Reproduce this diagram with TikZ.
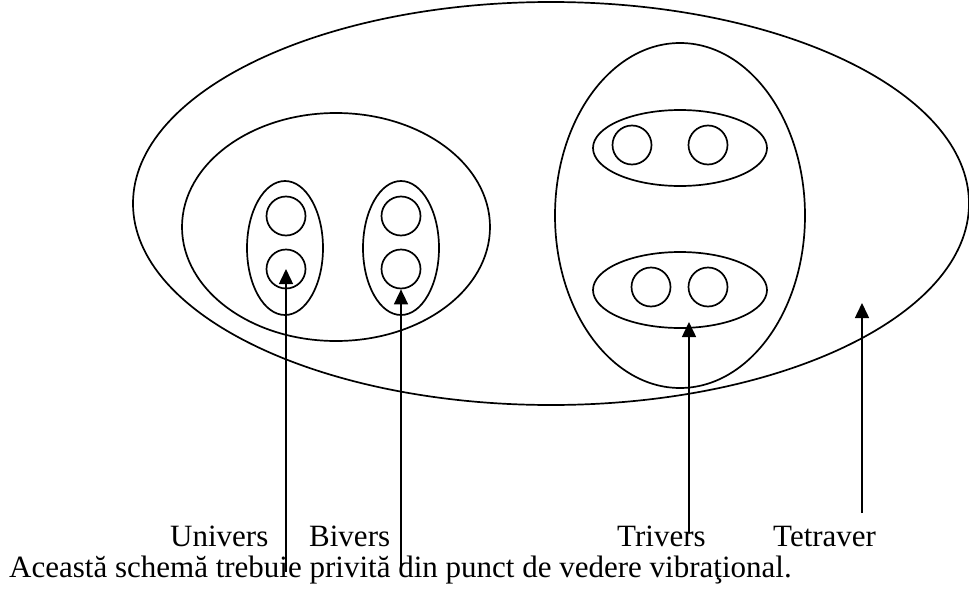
\documentclass[tikz,border=0pt]{standalone}
\usepackage{fontspec}
\setmainfont{Liberation Serif}
\usetikzlibrary{shapes.geometric,arrows.meta}
\begin{document}
\begin{tikzpicture}[x=1pt,y=-1pt,
  oval/.style={draw,ellipse,line width=1.7pt,inner sep=0pt},
  dot/.style={draw,circle,line width=1.7pt,inner sep=0pt,minimum size=39pt},
  pointer/.style={line width=1.5pt,-{Triangle[width=14pt,length=15pt]}},
  lbl/.style={anchor=base west,inner sep=0pt,font=\fontsize{31}{37}\selectfont}]
\useasboundingbox (0,0) rectangle (969,589);
% outer ellipse (Tetraver)
\node[oval,minimum width=836pt,minimum height=403pt] (tetra) at (551,203.5) {};
% left ellipse (Bivers group)
\node[oval,minimum width=308pt,minimum height=228pt] (left) at (336,227) {};
\node[oval,minimum width=76pt,minimum height=134pt] (uni) at (285,248) {};
\node[oval,minimum width=76pt,minimum height=134pt] (biv) at (401,248) {};
\node[dot] (u1) at (286,216) {};
\node[dot] (u2) at (286,269) {};
\node[dot] (b1) at (401,216) {};
\node[dot] (b2) at (401,269) {};
% right ellipse (Trivers group)
\node[oval,minimum width=250pt,minimum height=345pt] (tri) at (680,215.5) {};
\node[oval,minimum width=174pt,minimum height=76pt] (t1) at (680,148) {};
\node[oval,minimum width=174pt,minimum height=76pt] (t2) at (680,290) {};
\node[dot] (c1) at (632,145) {};
\node[dot] (c2) at (708,145) {};
\node[dot] (c3) at (651,287) {};
\node[dot] (c4) at (708,287) {};
% labels
\node[lbl] (lu) at (170,546) {Univers};
\node[lbl] (lb) at (309,546) {Bivers};
\node[lbl] (lt) at (617,546) {Trivers};
\node[lbl] (lr) at (773,546) {Tetraver};
\node[lbl] (note) at (9,577) {Această schemă trebuie privită din punct de vedere vibraţional.};
% arrow ends
\coordinate (ue) at (286,572);
\coordinate (be) at (401,572);
\coordinate (te) at (689,533);
\coordinate (tt) at (689,322);
\coordinate (re) at (862,513);
\coordinate (rt) at (862,303);
\draw[pointer] (ue) -- (u2.center);
\draw[pointer] (be) -- (b2.south);
\draw[pointer] (te) -- (tt);
\draw[pointer] (re) -- (rt);
\end{tikzpicture}
\end{document}
